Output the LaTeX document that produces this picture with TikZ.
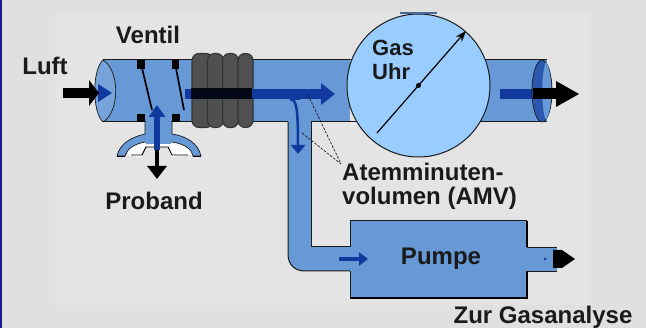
\documentclass[tikz,border=0pt]{standalone}
\usepackage{fontspec}
\setmainfont{Liberation Sans}
\usetikzlibrary{arrows.meta}
\definecolor{bgout}{HTML}{E0E0E0}
\definecolor{bgin}{HTML}{E4E4E4}
\definecolor{navy}{HTML}{1A1A8C}
\definecolor{tube}{HTML}{6699D6}
\definecolor{gauge}{HTML}{99CCFF}
\definecolor{flow}{HTML}{123A9E}
\definecolor{ink}{HTML}{1A1A1A}
\definecolor{coil}{HTML}{505050}
\tikzset{
  lbl/.style={font=\fontsize{24}{24}\selectfont\bfseries, text=ink, inner sep=0pt},
  pipe/.style={fill=tube, draw=none},
  edge/.style={draw=ink, line width=1pt},
  lobe/.style={fill=coil, draw=black!80, line width=1.1pt, rounded corners=7pt},
  block/.style={fill=black, draw=none},
  flap/.style={draw=black, line width=1.7pt},
  flowarrow/.style={draw=flow, line width=#1},
  dashline/.style={draw=ink, line width=.7pt, dash pattern=on 2.5pt off 1.5pt},
}
\begin{document}
\begin{tikzpicture}[x=1pt,y=-1pt]
\useasboundingbox (0,0) rectangle (646,328);
\fill[bgout] (0,0) rectangle (646,328);
\fill[bgin] (55,12) rectangle (590,305);
\fill[navy] (0,0) rectangle (2,328);

% named points
\coordinate (luftS) at (63,93);
\coordinate (mainS) at (185,94);
\coordinate (mainE) at (335,94);
\coordinate (outB) at (500,94);
\coordinate (outBE) at (540,94);
\coordinate (outK) at (533,94);
\coordinate (upS) at (157,150);
\coordinate (upE) at (157,105);
\coordinate (downS) at (157,146);
\coordinate (downE) at (157,179);
\coordinate (brS) at (290,99);
\coordinate (brE) at (298,154);
\coordinate (pumpS) at (339,259);
\coordinate (pumpE) at (368,259);
\coordinate (needleS) at (377,133);
\coordinate (needleE) at (466,31);
\coordinate (dashA) at (308,95);
\coordinate (dashB) at (302,133);
\coordinate (amvTip) at (341,164);

% vertical branch and lower pipe
\path[pipe] (288,118) -- (311,118) -- (311,247) -- (355,247) -- (355,271) -- (305,271)
   .. controls (294,271) and (288,264) .. (288,254) -- cycle;
\draw[edge] (288,122) -- (288,254) .. controls (288,264) and (294,271) .. (305,271) -- (350,271);
\draw[edge] (311,122) -- (311,247) -- (350,247);

% main tube
\path[pipe] (103,60) -- (350,60) -- (350,122) -- (103,122) -- cycle;
\path[pipe] (480,60) rectangle (547,122);
\draw[edge] (103,60) -- (360,60);
\draw[edge] (103,122) -- (288,122);
\draw[edge] (311,122) -- (360,122);
\draw[edge] (480,60) -- (547,60);
\draw[edge] (480,122) -- (547,122);

% inlet end
\path[fill=tube!90!white, draw=ink, line width=.7pt] (103,60) .. controls (92,70) and (92,112) .. (103,122)
   .. controls (120,112) and (120,70) .. (103,60) -- cycle;

% inlet arrows
\fill[flow] (98,84) -- (112,93) -- (98,102) -- cycle;
\draw[black, line width=10.5pt] (luftS) -- (92,93);
\fill[black] (89,80) -- (99,93) -- (89,106) -- cycle;

% valve
\fill[block] (137,60) rectangle (145,69);
\fill[block] (172,60) rectangle (179,69);
\fill[block] (137,114) rectangle (145,122);
\fill[block] (172,114) rectangle (180,122);
\draw[flap] (142,68) -- (152,110);
\draw[flap] (176,68) -- (184,110);

% mask
\path[fill=white, draw=none] (126,152) .. controls (132,140) and (150,138) .. (157,138)
  .. controls (170,138) and (186,142) .. (193,152) -- (192,155) -- (172,157) -- (168,147) -- (146,147) -- (142,157) -- (130,156) -- cycle;
\path[fill=tube, draw=ink, line width=.7pt] (145,122) -- (145,134) .. controls (132,137) and (120,143) .. (117,156)
  -- (125,156) .. controls (127,149) and (134,144) .. (145,142) -- (172,142)
  .. controls (186,144) and (192,150) .. (193,156) -- (201,156)
  .. controls (198,143) and (186,136) .. (172,134) -- (172,122);
\path[pipe] (146,120) rectangle (171,144);
\draw[black, line width=.9pt] (131,155) -- (142,155) -- (146,147) -- (168,147) -- (172,155) -- (188,155);
\draw[black, line width=.8pt] (117,156) -- (125,156) (193,156) -- (201,156);

% coil
\node[lobe, minimum width=21pt, minimum height=74pt, inner sep=0pt] (lobeA) at (202.5,90.5) {};
\node[lobe, minimum width=16pt, minimum height=74pt, inner sep=0pt] (lobeB) at (215.5,90.5) {};
\node[lobe, minimum width=16pt, minimum height=74pt, inner sep=0pt] (lobeC) at (230.5,90.5) {};
\node[lobe, minimum width=15pt, minimum height=74pt, inner sep=0pt] (lobeD) at (245.5,90.5) {};

% main flow arrow
\draw[flowarrow=10pt, -{Triangle[length=14pt,width=21pt]}] (mainS) -- (mainE);
\fill[black, opacity=.85] (191,88.5) rectangle (252,99.5);

% branch arrow
\draw[flowarrow=2.5pt, -{Triangle[length=9pt,width=14pt]}] (brS) .. controls (296,100) and (298,104) .. (brE);
\draw[flow, line width=3pt] (brS) -- (300,99);

% dashes
\draw[dashline] (dashA) -- (amvTip);
\draw[dashline] (dashB) -- (amvTip);

% gauge
\node[circle, fill=gauge, draw=ink, line width=1pt, minimum size=143pt, inner sep=0pt] (gauge) at (418.5,85.5) {};
\fill[tube!70!black] (400,12) rectangle (437,14);
\draw[black, line width=1.2pt, -{Stealth[length=11pt,width=8pt]}] (needleS) -- (needleE);
\fill[black] (gauge.center) circle (2.5pt);
\node[lbl, font=\fontsize{22}{24}\selectfont\bfseries, align=left, anchor=north west] (tGas) at (372,40) {Gas\\Uhr};

% outlet
\draw[flow, line width=10pt] (outB) -- (outBE);
\path[fill=flow!70!tube, draw=ink, line width=.7pt] (542,91) ellipse [x radius=10, y radius=31];
\path[fill=tube] (546,62) .. controls (553,72) and (553,110) .. (546,120) .. controls (541,110) and (541,72) .. (546,62) -- cycle;
\draw[black, line width=11pt] (outK) -- (558,94);
\fill[black] (556,81) -- (579,94) -- (556,107) -- cycle;

% inhale / exhale
\draw[black, line width=4.5pt, -{Triangle[length=13pt,width=19pt]}] (downS) -- (downE);
\draw[flowarrow=6pt, -{Triangle[length=12pt,width=16pt]}] (upS) -- (upE);

% pump
\path[fill=tube] (527,247) -- (557,247) -- (557,271) -- (527,271) -- cycle;
\draw[ink, line width=.9pt] (527,247) -- (557,247) (527,271) -- (557,271);
\fill[black] (553,250) -- (562,250) -- (575,259) -- (562,268) -- (553,268) -- cycle;
\node[fill=tube, draw=none, minimum width=177pt, minimum height=77pt, inner sep=0pt] (pump) at (438.5,259.5) {};
\draw[ink, line width=1pt] (350,247) -- (350,221) -- (527,221);
\draw[ink, line width=1pt] (350,271) -- (350,298);
\draw[black, line width=2pt] (350,298.5) -- (527,298.5) -- (527,271) (527,247) -- (527,221);
\draw[flowarrow=3.5pt, -{Triangle[length=9pt,width=13pt]}] (pumpS) -- (pumpE);
\fill[flow] (545,259) circle (1.5pt);
\node[lbl] (tPumpe) at (441,259) {Pumpe};

% labels
\node[lbl] (tVentil) at (148,35) {Ventil};
\node[lbl] (tLuft) at (45,66) {Luft};
\node[lbl] (tProband) at (154,201) {Proband};
\node[lbl, align=left, anchor=north west] (tAtem) at (342,163) {Atemminuten-\\volumen (AMV)};
\node[lbl] (tZur) at (543,317) {Zur Gasanalyse};
\end{tikzpicture}
\end{document}
